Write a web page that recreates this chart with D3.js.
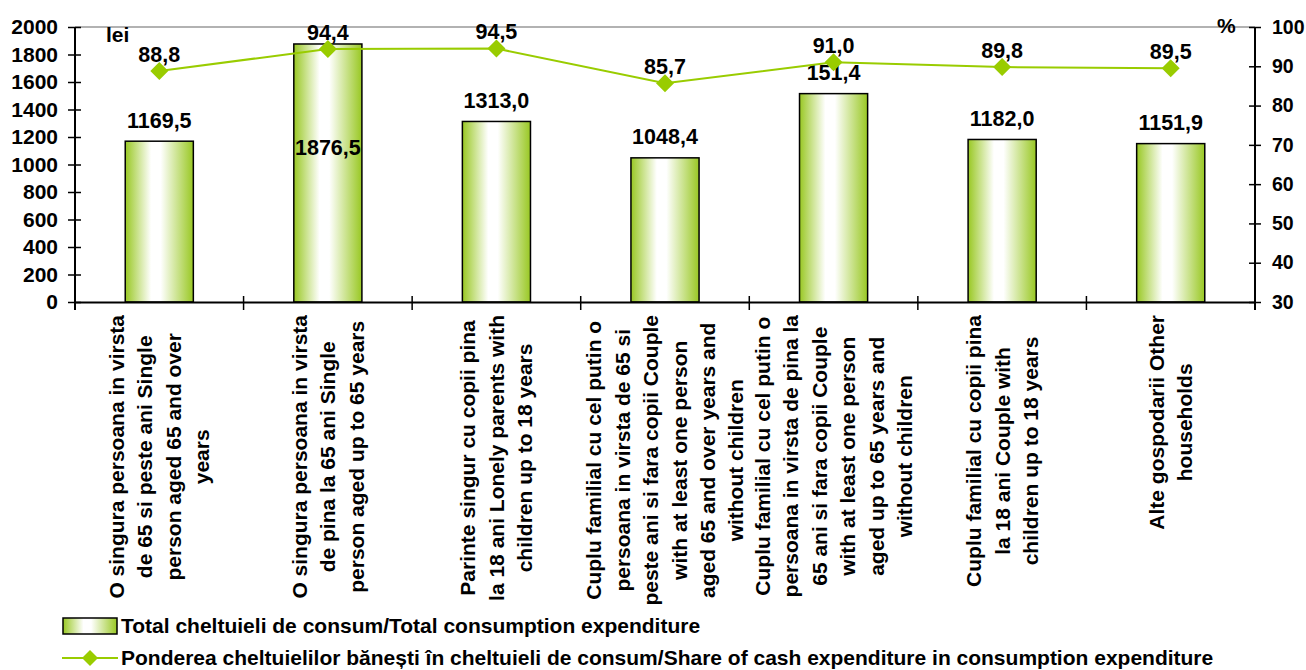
<!DOCTYPE html>
<html>
<head>
<meta charset="utf-8">
<script src="https://cdn.jsdelivr.net/npm/d3@7"></script>
<style>
  body { margin: 0; background: #fff; }
  text { font-family: "Liberation Sans", Arial, sans-serif; font-weight: bold; fill: #000; }
</style>
</head>
<body>
<div id="chart"></div>
<script>
// categories, one array of wrapped lines each
const categories = [
  ["O singura persoana in virsta", "de 65 si peste ani Single", "person aged 65 and over", "years"],
  ["O singura persoana in virsta", "de pina la 65 ani Single", "person aged up to 65 years"],
  ["Parinte singur cu copii pina", "la 18 ani Lonely parents with", "children up to 18 years"],
  ["Cuplu familial cu cel putin o", "persoana in virsta de 65 si", "peste ani si fara copii Couple", "with at least one person", "aged 65 and over years and", "without children"],
  ["Cuplu familial cu cel putin o", "persoana in virsta de pina la", "65 ani si fara copii Couple", "with at least one person", "aged up to 65 years and", "without children"],
  ["Cuplu familial cu copii pina", "la 18 ani Couple with", "children up to 18 years"],
  ["Alte gospodarii Other", "households"]
];
const totalExpenditure = [1169.5, 1876.5, 1313.0, 1048.4, 1515.4, 1182.0, 1151.9];
const totalLabels = ["1169,5", "1876,5", "1313,0", "1048,4", "151,4", "1182,0", "1151,9"];
const cashShare = [88.8, 94.4, 94.5, 85.7, 91.0, 89.8, 89.5];
const leftTicks = [0, 200, 400, 600, 800, 1000, 1200, 1400, 1600, 1800, 2000];
const rightTicks = [30, 40, 50, 60, 70, 80, 90, 100];
const legendLabels = [
  "Total cheltuieli de consum/Total consumption expenditure",
  "Ponderea cheltuielilor bănești în cheltuieli de consum/Share of cash expenditure in consumption expenditure"
];

const width = 1306, height = 670;
const margin = {top: 27, right: 51, bottom: 368, left: 75};
const green = "#99cc00";

const svg = d3.select("#chart").append("svg")
  .attr("width", width)
  .attr("height", height);

const grad = svg.append("defs").append("linearGradient")
  .attr("id", "barGrad")
  .attr("x1", "0%").attr("x2", "100%").attr("y1", "0%").attr("y2", "0%");
grad.append("stop").attr("offset", "0%").attr("stop-color", "#99c823");
grad.append("stop").attr("offset", "38%").attr("stop-color", "#ffffff");
grad.append("stop").attr("offset", "52%").attr("stop-color", "#ffffff");
grad.append("stop").attr("offset", "100%").attr("stop-color", "#99c823");

const idx = categories.map((d, i) => i);
const x = d3.scaleBand()
  .domain(idx)
  .range([margin.left, width - margin.right])
  .padding(0);
const barW = x.bandwidth() * 0.404;

const y = d3.scaleLinear()
  .domain([0, 2000])
  .range([height - margin.bottom, margin.top]);
const y2 = d3.scaleLinear()
  .domain([30, 100])
  .range([height - margin.bottom, margin.top]);

const fmt = v => d3.format(".1f")(v).replace(".", ",");

// plot area top border
svg.append("line")
  .attr("x1", margin.left).attr("x2", width - margin.right)
  .attr("y1", margin.top).attr("y2", margin.top)
  .attr("stroke", "#999").attr("stroke-width", 1.5);

// bars
svg.append("g")
  .selectAll("rect")
  .data(totalExpenditure)
  .join("rect")
  .attr("x", (d, i) => x(i) + (x.bandwidth() - barW) / 2)
  .attr("y", d => y(d))
  .attr("width", barW)
  .attr("height", d => y(0) - y(d))
  .attr("fill", "url(#barGrad)")
  .attr("stroke", "#000")
  .attr("stroke-width", 1.5);

// axes
const leftAxis = svg.append("g")
  .attr("transform", `translate(${margin.left},0)`)
  .call(d3.axisLeft(y).tickValues(leftTicks).tickFormat(d3.format("d")).tickSize(7).tickPadding(10));
const rightAxis = svg.append("g")
  .attr("transform", `translate(${width - margin.right},0)`)
  .call(d3.axisRight(y2).tickValues(rightTicks).tickFormat(d3.format("d")).tickSize(6).tickPadding(11));
const bottomAxis = svg.append("g")
  .attr("transform", `translate(0,${height - margin.bottom})`)
  .call(d3.axisBottom(x).tickValues([]).tickSizeOuter(0));

[leftAxis, rightAxis, bottomAxis].forEach(g => {
  g.select(".domain").attr("stroke", "#000").attr("stroke-width", 2);
  g.selectAll(".tick line").attr("stroke", "#000").attr("stroke-width", 1.5);
  g.selectAll(".tick text").attr("font-size", 21).attr("fill", "#000")
    .style("font-family", "'Liberation Sans', Arial, sans-serif").style("font-weight", "bold");
});
rightAxis.selectAll(".tick text").attr("font-size", 19.5);
leftAxis.select(".domain").attr("d", `M0,${margin.top}V${height - margin.bottom + 8}`);
rightAxis.select(".domain").attr("d", `M0,${margin.top}V${height - margin.bottom + 8}`);
leftAxis.selectAll(".tick line").attr("x1", 6);
rightAxis.selectAll(".tick line").attr("x1", -6);

// category boundary ticks
svg.append("g")
  .selectAll("line")
  .data(idx.slice(1))
  .join("line")
  .attr("x1", d => x(d)).attr("x2", d => x(d))
  .attr("y1", y(0) - 6).attr("y2", y(0) + 8)
  .attr("stroke", "#000").attr("stroke-width", 1.5);

// bar labels
svg.append("g")
  .selectAll("text")
  .data(totalExpenditure)
  .join("text")
  .attr("x", (d, i) => x(i) + x.bandwidth() / 2)
  .attr("y", d => (y(d) - 21 < 45 ? y(d) + 103 : y(d) - 21))
  .attr("dy", "0.35em")
  .attr("text-anchor", "middle")
  .attr("font-size", 21.5)
  .text((d, i) => totalLabels[i]);

// line series
const line = d3.line()
  .x((d, i) => x(i) + x.bandwidth() / 2)
  .y(d => y2(d));
svg.append("path")
  .datum(cashShare)
  .attr("d", line)
  .attr("fill", "none")
  .attr("stroke", green)
  .attr("stroke-width", 2);

svg.append("g")
  .selectAll("path")
  .data(cashShare)
  .join("path")
  .attr("transform", (d, i) => `translate(${x(i) + x.bandwidth() / 2},${y2(d)})`)
  .attr("d", "M0,-9L9,0L0,9L-9,0Z")
  .attr("fill", green);

svg.append("g")
  .selectAll("text")
  .data(cashShare)
  .join("text")
  .attr("x", (d, i) => x(i) + x.bandwidth() / 2)
  .attr("y", d => y2(d) - 17)
  .attr("dy", "0.35em")
  .attr("text-anchor", "middle")
  .attr("font-size", 21.5)
  .text(d => fmt(d));

// unit labels
svg.append("text").attr("x", 106).attr("y", 35).attr("dy", "0.35em")
  .attr("font-size", 21).text("lei");
svg.append("text").attr("x", 1217).attr("y", 26).attr("dy", "0.35em")
  .attr("font-size", 21).text("%");

// category labels, rotated
const catG = svg.append("g")
  .selectAll("g")
  .data(categories)
  .join("g");
catG.each(function(lines, i) {
  const g = d3.select(this);
  const n = lines.length;
  const t = g.selectAll("text")
    .data(lines)
    .join("text")
    .attr("text-anchor", "middle")
    .attr("font-size", 21)
    .attr("x", 0)
    .attr("y", (d, j) => (j - (n - 1) / 2) * 28.4)
    .attr("dy", "0.35em")
    .text(d => d);
  const maxW = d3.max(t.nodes(), nd => nd.getComputedTextLength());
  g.attr("transform", `translate(${x(i) + x.bandwidth() / 2},${315 + maxW / 2}) rotate(-90)`);
});

// legend
const leg = svg.append("g");
leg.append("rect")
  .attr("x", 63).attr("y", 618).attr("width", 54).attr("height", 16)
  .attr("fill", "url(#barGrad)").attr("stroke", "#000").attr("stroke-width", 1.5);
leg.append("text").attr("x", 121).attr("y", 626).attr("dy", "0.35em")
  .attr("font-size", 21).text(legendLabels[0]);
leg.append("line")
  .attr("x1", 62).attr("x2", 118).attr("y1", 658).attr("y2", 658)
  .attr("stroke", green).attr("stroke-width", 2);
leg.append("path")
  .attr("transform", "translate(90,658)")
  .attr("d", "M0,-8L8,0L0,8L-8,0Z")
  .attr("fill", green);
leg.append("text").attr("x", 121).attr("y", 658).attr("dy", "0.35em")
  .attr("font-size", 21).text(legendLabels[1]);
</script>
</body>
</html>
